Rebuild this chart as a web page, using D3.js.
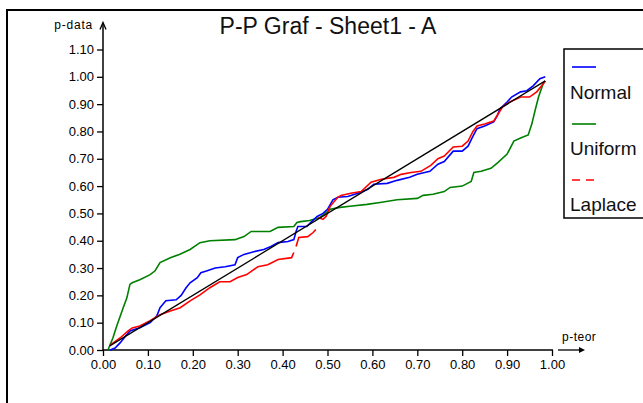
<!DOCTYPE html>
<html>
<head>
<meta charset="utf-8">
<script src="https://cdn.jsdelivr.net/npm/d3@7"></script>
<style>
  html, body { margin: 0; padding: 0; background: #fff; }
  svg { display: block; font-family: "Liberation Sans", Arial, sans-serif; }
</style>
</head>
<body>
<svg id="chart" width="643" height="403"></svg>
<script>
// Tick values for both axes
const xTickValues = [0, 0.1, 0.2, 0.3, 0.4, 0.5, 0.6, 0.7, 0.8, 0.9, 1.0];
const yTickValues = [0, 0.1, 0.2, 0.3, 0.4, 0.5, 0.6, 0.7, 0.8, 0.9, 1.0, 1.1];

// Reference diagonal (theoretical = empirical)
const diagP = [0.015, 0.985];

// Normal fit: theoretical p vs data p
const normalX = [0.016, 0.027, 0.038, 0.05, 0.06, 0.082, 0.105, 0.12, 0.127, 0.14, 0.163, 0.174, 0.185, 0.194, 0.21, 0.218, 0.232, 0.25, 0.272, 0.294, 0.30, 0.314, 0.336, 0.358, 0.374, 0.39, 0.412, 0.425, 0.43, 0.434, 0.454, 0.463, 0.477, 0.49, 0.50, 0.512, 0.523, 0.545, 0.568, 0.59, 0.603, 0.633, 0.655, 0.683, 0.70, 0.728, 0.746, 0.76, 0.78, 0.80, 0.813, 0.824, 0.833, 0.85, 0.87, 0.878, 0.884, 0.90, 0.91, 0.93, 0.944, 0.958, 0.973, 0.985];
const normalY = [0.0, 0.007, 0.026, 0.05, 0.07, 0.081, 0.10, 0.125, 0.155, 0.18, 0.184, 0.20, 0.228, 0.246, 0.265, 0.283, 0.29, 0.30, 0.305, 0.312, 0.338, 0.35, 0.36, 0.368, 0.379, 0.393, 0.397, 0.404, 0.434, 0.452, 0.452, 0.467, 0.489, 0.50, 0.515, 0.55, 0.559, 0.562, 0.574, 0.588, 0.607, 0.61, 0.621, 0.632, 0.643, 0.654, 0.68, 0.69, 0.728, 0.728, 0.746, 0.783, 0.81, 0.82, 0.835, 0.857, 0.882, 0.908, 0.926, 0.945, 0.949, 0.967, 0.993, 1.0];

// Uniform fit
const uniformX = [0.011, 0.022, 0.031, 0.045, 0.053, 0.06, 0.065, 0.082, 0.105, 0.116, 0.127, 0.15, 0.17, 0.194, 0.216, 0.238, 0.294, 0.314, 0.33, 0.372, 0.39, 0.425, 0.432, 0.44, 0.46, 0.483, 0.495, 0.506, 0.528, 0.55, 0.588, 0.617, 0.655, 0.70, 0.713, 0.735, 0.76, 0.773, 0.80, 0.82, 0.826, 0.842, 0.864, 0.88, 0.90, 0.915, 0.93, 0.947, 0.955, 0.962, 0.97, 0.98, 0.985];
const uniformY = [0.0, 0.044, 0.09, 0.155, 0.19, 0.24, 0.246, 0.257, 0.276, 0.29, 0.32, 0.338, 0.35, 0.368, 0.393, 0.40, 0.404, 0.415, 0.434, 0.434, 0.449, 0.452, 0.467, 0.47, 0.474, 0.485, 0.50, 0.515, 0.522, 0.526, 0.533, 0.54, 0.55, 0.555, 0.566, 0.57, 0.58, 0.595, 0.60, 0.617, 0.65, 0.654, 0.665, 0.687, 0.717, 0.765, 0.776, 0.787, 0.827, 0.875, 0.926, 0.974, 0.985];

// Laplace fit (null marks a gap in the dashed stroke)
const laplaceX = [0.016, 0.038, 0.056, 0.065, 0.082, 0.105, 0.127, 0.15, 0.172, 0.194, 0.216, 0.238, 0.26, 0.283, 0.30, 0.32, 0.345, 0.367, 0.39, 0.42, 0.425, null, 0.43, 0.436, 0.456, 0.468, 0.474, null, 0.48, 0.49, 0.497, 0.503, 0.506, 0.523, 0.53, 0.552, 0.575, 0.597, 0.62, 0.648, 0.664, 0.686, 0.708, 0.73, 0.746, 0.76, 0.78, 0.80, 0.813, 0.824, 0.833, 0.85, 0.87, 0.88, 0.89, 0.906, 0.93, 0.95, 0.966, 0.977, 0.985];
const laplaceY = [0.018, 0.044, 0.07, 0.081, 0.088, 0.107, 0.129, 0.143, 0.155, 0.18, 0.202, 0.228, 0.25, 0.25, 0.265, 0.276, 0.305, 0.312, 0.331, 0.338, 0.357, null, 0.379, 0.412, 0.415, 0.43, 0.441, null, 0.485, 0.478, 0.489, 0.515, 0.526, 0.559, 0.566, 0.574, 0.58, 0.614, 0.625, 0.632, 0.643, 0.65, 0.654, 0.676, 0.70, 0.71, 0.743, 0.746, 0.765, 0.80, 0.82, 0.827, 0.838, 0.864, 0.89, 0.908, 0.926, 0.926, 0.945, 0.967, 0.985];

const seriesNames = ["Normal", "Uniform", "Laplace"];
const seriesColors = ["#0000ff", "#008000", "#ff0000"];

const svg = d3.select("#chart");

// Outer frame
svg.append("rect")
  .attr("x", 7).attr("y", 10).attr("width", 700).attr("height", 500)
  .attr("fill", "none").attr("stroke", "#000").attr("stroke-width", 2);

const x = d3.scaleLinear().domain([0, 1]).range([103, 552]);
const y = d3.scaleLinear().domain([0, 1.1]).range([350, 49.5]);

const fmt = d3.format(".2f");

// Y axis
const yAxis = svg.append("g")
  .attr("transform", `translate(${x(0)},0)`)
  .call(d3.axisLeft(y).tickValues(yTickValues).tickFormat(fmt).tickSize(6).tickPadding(3));
yAxis.select(".domain").remove();
yAxis.selectAll("text").attr("font-size", 13).attr("font-family", "Liberation Sans, Arial");

// X axis
const xAxis = svg.append("g")
  .attr("transform", `translate(0,${y(0)})`)
  .call(d3.axisBottom(x).tickValues(xTickValues).tickFormat(fmt).tickSize(6).tickPadding(4));
xAxis.select(".domain").remove();
xAxis.selectAll("text").attr("font-size", 13).attr("font-family", "Liberation Sans, Arial");
svg.selectAll(".tick line").attr("stroke-width", 1.3);

// Axis lines with arrows
svg.append("line")
  .attr("x1", x(0)).attr("x2", x(0)).attr("y1", y(0) + 1).attr("y2", y(1.1) - 26)
  .attr("stroke", "#000").attr("stroke-width", 1.5);
svg.append("path")
  .attr("d", `M${x(0) - 3},${y(1.1) - 20} L${x(0)},${y(1.1) - 27} L${x(0) + 3},${y(1.1) - 20}`)
  .attr("fill", "none").attr("stroke", "#000").attr("stroke-width", 1.3);
svg.append("line")
  .attr("x1", x(0)).attr("x2", x(1) + 1).attr("y1", y(0)).attr("y2", y(0))
  .attr("stroke", "#000").attr("stroke-width", 1.5);
svg.append("line")
  .attr("x1", x(1) + 6).attr("x2", x(1) + 30).attr("y1", y(0)).attr("y2", y(0))
  .attr("stroke", "#000").attr("stroke-width", 1.3);
svg.append("path")
  .attr("d", `M${x(1) + 27},${y(0) - 3} L${x(1) + 33},${y(0)} L${x(1) + 27},${y(0) + 3} Z`)
  .attr("fill", "#000");

// Axis captions
svg.append("text").attr("x", x(0) - 10).attr("y", y(1.1) - 21)
  .attr("text-anchor", "end").attr("font-size", 12).attr("letter-spacing", 0.8).text("p-data");
svg.append("text").attr("x", x(1) + 10).attr("y", y(0) - 9)
  .attr("font-size", 12).attr("letter-spacing", 0.5).text("p-teor");

// Title
svg.append("text").attr("x", 328).attr("y", 34).attr("text-anchor", "middle")
  .attr("font-size", 23).attr("fill", "#111").text("P-P Graf - Sheet1 - A");

// Curves
const line = d3.line()
  .defined(d => d[0] !== null && d[1] !== null)
  .x(d => x(d[0])).y(d => y(d[1]));

const plot = svg.append("g").attr("fill", "none").attr("stroke-width", 1.6);
const zip = (a, b) => a.map((v, i) => [v, b[i]]);

plot.append("path").datum(zip(uniformX, uniformY)).attr("d", line).attr("stroke", seriesColors[1]);
plot.append("path").datum(zip(normalX, normalY)).attr("d", line).attr("stroke", seriesColors[0]);
plot.append("path").datum(zip(laplaceX, laplaceY)).attr("d", line).attr("stroke", seriesColors[2]);
plot.append("path").datum(zip(diagP, diagP)).attr("d", line).attr("stroke", "#000").attr("stroke-width", 1.3);

// Legend
const legend = svg.append("g");
legend.append("rect").attr("x", 564).attr("y", 49).attr("width", 200).attr("height", 169)
  .attr("fill", "#fff").attr("stroke", "#000").attr("stroke-width", 1.5);
const rowTop = [67, 124, 180];
const rowText = [99, 155, 211];
seriesNames.forEach((name, i) => {
  legend.append("line").attr("x1", 572).attr("x2", 596)
    .attr("y1", rowTop[i]).attr("y2", rowTop[i])
    .attr("stroke", seriesColors[i]).attr("stroke-width", 1.6)
    .attr("stroke-dasharray", i === 2 ? "8,6" : null);
  legend.append("text").attr("x", 570).attr("y", rowText[i])
    .attr("font-size", 19).attr("fill", "#111").text(name);
});
</script>
</body>
</html>
